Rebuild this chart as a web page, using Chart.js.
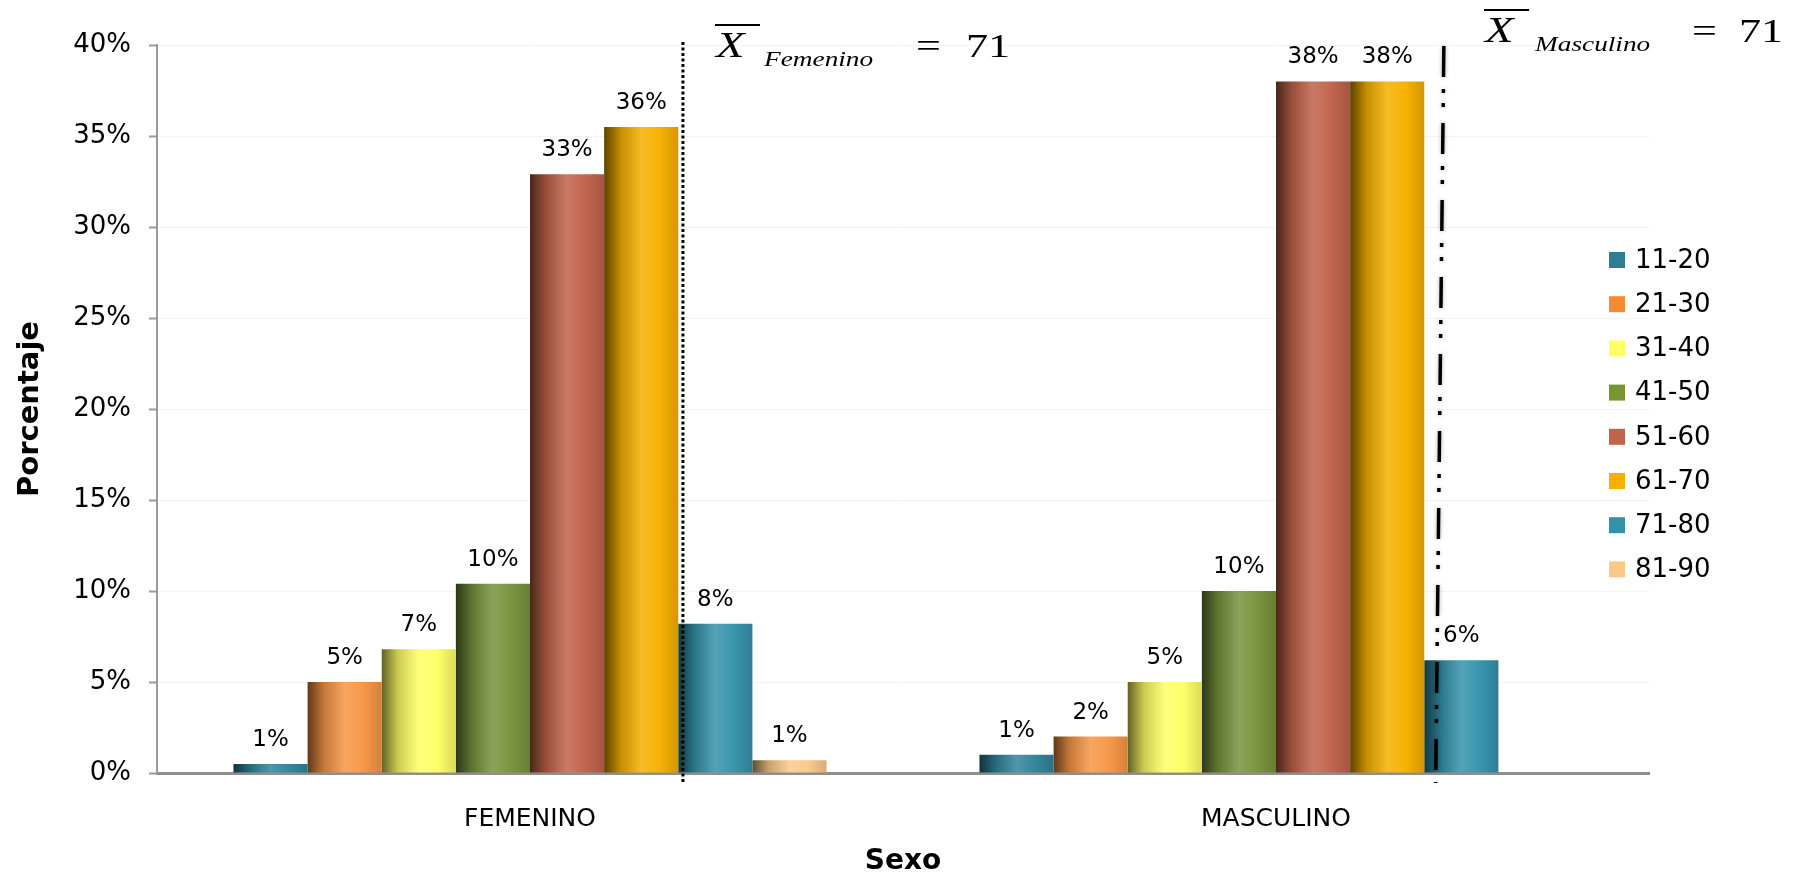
<!DOCTYPE html>
<html lang="es">

<head>
    <meta charset="UTF-8">
    <title>Porcentaje por edad y sexo</title>
    <script src="https://cdn.jsdelivr.net/npm/chart.js"></script>
    <style>
        body {
            margin: 0;
            background-color: #ffffff;
        }

        canvas {
            display: block;
        }
    </style>
</head>

<body>
    <canvas id="barChart" width="1799" height="879"></canvas>

    <script>
        // datos
        const categories = ['FEMENINO', 'MASCULINO'];
        const ageGroups = ['11-20', '21-30', '31-40', '41-50', '51-60', '61-70', '71-80', '81-90'];
        const femenino = [0.5, 5.0, 6.8, 10.4, 32.9, 35.5, 8.2, 0.7];
        const masculino = [1.0, 2.0, 5.0, 10.0, 38.0, 38.0, 6.2, 0];
        const means = [71, 71];
        const meanNames = ['Femenino', 'Masculino'];
        const yTicks = [0, 5, 10, 15, 20, 25, 30, 35, 40];

        const groupColors = ['#31849B', '#F79646', '#FFFF66', '#77933C', '#C0634A', '#F6B000', '#3593AB', '#FAC98A'];
        const legendColors = ['#2E7F93', '#F58A32', '#FFFF66', '#779533', '#C0634A', '#F6B000', '#3591A8', '#FAC98A'];

        const FONT = '"DejaVu Sans", sans-serif';
        const SERIF = '"Liberation Serif", "Times New Roman", serif';

        function shade(hex, f) {
            let r = parseInt(hex.slice(1, 3), 16);
            let g = parseInt(hex.slice(3, 5), 16);
            let b = parseInt(hex.slice(5, 7), 16);
            if (f <= 1) {
                r *= f; g *= f; b *= f;
            } else {
                const t = f - 1;
                r += (255 - r) * t; g += (255 - g) * t; b += (255 - b) * t;
            }
            return `rgb(${Math.round(r)},${Math.round(g)},${Math.round(b)})`;
        }

        // efecto cilindro en cada barra
        const cylinderPlugin = {
            id: 'cylinder',
            beforeDatasetsDraw(chart) {
                const { ctx } = chart;
                chart.data.datasets.forEach((ds, i) => {
                    const base = groupColors[i];
                    chart.getDatasetMeta(i).data.forEach(el => {
                        const x0 = el.x - el.width / 2;
                        const grad = ctx.createLinearGradient(x0, 0, x0 + el.width, 0);
                        grad.addColorStop(0, shade(base, 0.38));
                        grad.addColorStop(0.22, shade(base, 0.8));
                        grad.addColorStop(0.5, shade(base, 1.15));
                        grad.addColorStop(0.75, shade(base, 1.02));
                        grad.addColorStop(1, shade(base, 0.86));
                        // las opciones se comparten entre barras, hay que copiarlas
                        el.options = Object.assign({}, el.options, { backgroundColor: grad });
                    });
                });
            },
            afterDatasetsDraw(chart) {
                const { ctx } = chart;
                ctx.save();
                ctx.font = '23px ' + FONT;
                ctx.fillStyle = '#000';
                ctx.textAlign = 'center';
                ctx.textBaseline = 'middle';
                chart.data.datasets.forEach((ds, i) => {
                    chart.getDatasetMeta(i).data.forEach((el, j) => {
                        const v = ds.data[j];
                        if (v > 0) ctx.fillText(Math.round(v) + '%', el.x, el.y - 24);
                    });
                });
                ctx.restore();
            }
        };

        // lineas de la media y sus rotulos
        const meanPlugin = {
            id: 'meanLines',
            afterDraw(chart) {
                const { ctx, scales } = chart;
                const xs = scales.x, ys = scales.y;
                const catW = xs.width / categories.length;
                const top = ys.top - 3, bottom = ys.bottom + 10;

                ctx.save();
                ctx.strokeStyle = '#000';

                // femenino: punteada
                const xf = xs.getPixelForValue(0) + 0.205 * catW;
                ctx.lineWidth = 3;
                ctx.setLineDash([3, 2.5]);
                ctx.beginPath();
                ctx.moveTo(xf, top);
                ctx.lineTo(xf, bottom);
                ctx.stroke();

                // masculino: raya-punto-punto, algo inclinada
                const xmTop = xs.getPixelForValue(1) + 0.225 * catW;
                const xmBot = xs.getPixelForValue(1) + 0.214 * catW;
                ctx.lineWidth = 3.5;
                ctx.shadowColor = 'rgba(0,0,0,0.3)';
                ctx.shadowBlur = 4;
                ctx.setLineDash([31, 12, 4, 10, 4, 16]);
                ctx.beginPath();
                ctx.moveTo(xmTop, top + 4);
                ctx.lineTo(xmBot, bottom);
                ctx.stroke();
                ctx.restore();

                // la ecuacion original viene estirada a lo ancho
                const stretch = 1.3;
                const text = (t, x, y, font) => {
                    ctx.save();
                    ctx.font = font;
                    ctx.translate(x, y);
                    ctx.scale(stretch, 1);
                    ctx.fillText(t, 0, 0);
                    ctx.restore();
                };
                const labels = [
                    { x: 716, y: 57, bar: 25, sub: 764, subY: 66, eq: 916, num: 966, numY: 57 },
                    { x: 1485, y: 42, bar: 10, sub: 1535, subY: 51, eq: 1692, num: 1739, numY: 42 }
                ];
                labels.forEach((p, k) => {
                    ctx.save();
                    ctx.fillStyle = '#000';
                    ctx.textAlign = 'left';
                    ctx.textBaseline = 'alphabetic';
                    text('X', p.x, p.y, 'italic 36px ' + SERIF);
                    text(meanNames[k], p.sub, p.subY, 'italic 21px ' + SERIF);
                    text('=', p.eq, p.numY, '34px ' + SERIF);
                    text(String(means[k]), p.num, p.numY, '34px ' + SERIF);
                    ctx.strokeStyle = '#000';
                    ctx.lineWidth = 2;
                    ctx.beginPath();
                    ctx.moveTo(p.x - 1, p.bar);
                    ctx.lineTo(p.x + 44, p.bar);
                    ctx.stroke();
                    ctx.restore();
                });
            }
        };

        // leyenda a la derecha
        const legendPlugin = {
            id: 'sideLegend',
            afterDraw(chart) {
                const { ctx } = chart;
                ctx.save();
                ctx.font = '26px ' + FONT;
                ctx.textAlign = 'left';
                ctx.textBaseline = 'middle';
                chart.data.datasets.forEach((ds, i) => {
                    const cy = 260 + i * 44.2;
                    ctx.fillStyle = legendColors[i];
                    ctx.fillRect(1609, cy - 8, 16, 16);
                    ctx.fillStyle = '#000';
                    ctx.fillText(ds.label, 1635, cy + 1);
                });
                ctx.restore();
            }
        };

        const ctx = document.getElementById('barChart').getContext('2d');

        const chart = new Chart(ctx, {
            type: 'bar',
            data: {
                labels: categories,
                datasets: ageGroups.map((g, i) => ({
                    label: g,
                    data: [femenino[i], masculino[i]],
                    backgroundColor: groupColors[i],
                    borderWidth: 0,
                    categoryPercentage: 0.795,
                    barPercentage: 1.0
                }))
            },
            options: {
                responsive: false,
                animation: false,
                layout: { padding: { top: 45, right: 150, bottom: 0, left: 0 } },
                plugins: {
                    legend: { display: false },
                    tooltip: { enabled: false }
                },
                scales: {
                    x: {
                        grid: { display: false, drawTicks: false },
                        border: { display: true, color: '#8f8f8f', width: 3 },
                        ticks: { color: '#000', font: { family: FONT, size: 25 }, padding: 31 },
                        title: {
                            display: true, text: 'Sexo', color: '#000',
                            font: { family: FONT, size: 28, weight: 'bold' },
                            padding: { top: 0, bottom: 0 }
                        },
                        afterFit(scale) { scale.height = 106; }
                    },
                    y: {
                        min: 0,
                        max: yTicks[yTicks.length - 1],
                        afterBuildTicks(scale) { scale.ticks = yTicks.map(v => ({ value: v })); },
                        grid: { color: '#f4f4f4', tickColor: '#9a9a9a', tickLength: 8, tickWidth: 2 },
                        border: { display: true, color: '#9a9a9a', width: 2 },
                        ticks: {
                            color: '#000', font: { family: FONT, size: 26 }, padding: 18,
                            callback: v => v + '%'
                        },
                        title: {
                            display: true, text: 'Porcentaje', color: '#000',
                            font: { family: FONT, size: 29, weight: 'bold' },
                            padding: { top: 13, bottom: 0 }
                        },
                        afterFit(scale) { scale.width = 157; }
                    }
                }
            },
            plugins: [cylinderPlugin, meanPlugin, legendPlugin]
        });
    </script>
</body>

</html>
